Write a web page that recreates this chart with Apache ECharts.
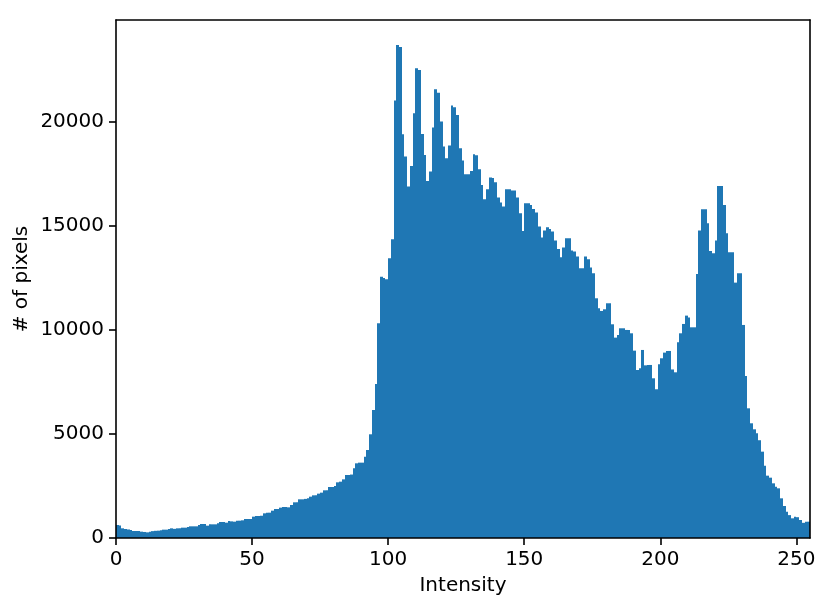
<!DOCTYPE html>
<html>
<head>
<meta charset="utf-8">
<script src="https://cdn.jsdelivr.net/npm/echarts@6/dist/echarts.min.js"></script>
<style>
  html, body { margin: 0; padding: 0; background: #fff; }
  #main { width: 831px; height: 611px; }
</style>
</head>
<body>
<div id="main"></div>
<script>
// pixel counts per intensity bin (bin i covers [i, i+1))
const counts = [
  625, 600, 465, 433, 410, 390, 337, 337, 337, 305,
  290, 272, 300, 330, 345, 353, 370, 401, 401, 430,
  465, 440, 465, 465, 497, 497, 530, 561, 561, 561,
  625, 673, 673, 593, 657, 657, 657, 705, 769, 769,
  737, 817, 800, 785, 833, 833, 850, 913, 913, 913,
  1026, 1058, 1058, 1070, 1186, 1218, 1218, 1314, 1394, 1394,
  1459, 1490, 1490, 1474, 1587, 1715, 1715, 1859, 1859, 1880,
  1907, 1987, 2051, 2051, 2132, 2180, 2292, 2292, 2452, 2452,
  2500, 2676, 2708, 2820, 3029, 3029, 3050, 3350, 3590, 3622,
  3622, 3910, 4231, 4985, 6154, 7404, 10322, 12564, 12500, 12436,
  13447, 14361, 21026, 23700, 23600, 19410, 18334, 16891, 17886, 20419,
  22583, 22500, 19424, 18415, 17165, 17613, 19728, 21573, 21400, 20016,
  18814, 18256, 18862, 20786, 20700, 20338, 18736, 18142, 17485, 17485,
  17645, 18447, 18400, 17725, 16972, 16283, 16764, 17325, 17300, 17100,
  16363, 16122, 15930, 16764, 16764, 16700, 16700, 16363, 15611, 14761,
  16091, 16091, 16011, 15818, 15642, 14969, 14440, 14777, 14937, 14857,
  14729, 14300, 13895, 13494, 13959, 14408, 14408, 13815, 13767, 13527,
  12965, 12965, 13527, 13400, 13000, 12725, 11523, 11042, 10914, 10994,
  11283, 11283, 10273, 9632, 9760, 10081, 10081, 10001, 10001, 9840,
  9006, 8077, 8157, 9039, 8300, 8318, 8318, 7677, 7150, 8350,
  8639, 8911, 8991, 8991, 8101, 7965, 9407, 9840, 10289, 10690,
  10600, 10128, 10128, 12693, 14777, 15802, 15802, 15129, 13799, 13687,
  14296, 16924, 16924, 16011, 14648, 13735, 13735, 12276, 12725, 12725,
  10241, 7789, 6234, 5514, 5225, 5032, 4700, 4151, 3478, 2997,
  2900, 2628, 2468, 2388, 1907, 1539, 1266, 1100, 946, 1026,
  1000, 865, 730, 785, 785, 760
];
const binWidth = 1;
const xTicks = [0, 50, 100, 150, 200, 250];
const yTicks = [0, 5000, 10000, 15000, 20000];

let binData = [];
for (let i = 0; i < counts.length; i++) {
  binData.push([i * binWidth, counts[i]]);
}

const font = 'DejaVu Sans';
const lineW = 1.6;

let chart = echarts.init(document.getElementById('main'), null, { renderer: 'canvas' });
chart.setOption({
  animation: false,
  backgroundColor: '#fff',
  grid: { left: 116, right: 21, top: 20, bottom: 73 },
  xAxis: [
    {
      type: 'value',
      min: 0,
      max: 255,
      interval: 50,
      z: 5,
      name: 'Intensity',
      nameLocation: 'middle',
      nameGap: 38,
      nameMoveOverlap: false,
      nameTextStyle: { fontFamily: font, fontSize: 20, color: '#000' },
      axisLine: { show: true, onZero: false, lineStyle: { color: '#000', width: lineW } },
      axisTick: { show: true, length: 7, lineStyle: { color: '#000', width: lineW } },
      axisLabel: {
        margin: 12, fontFamily: font, fontSize: 20, color: '#000',
        showMaxLabel: false,
        formatter: v => (xTicks.indexOf(v) >= 0 ? String(v) : '')
      },
      splitLine: { show: false }
    },
    {
      type: 'value', position: 'top', min: 0, max: 255, z: 5,
      axisLine: { show: true, onZero: false, lineStyle: { color: '#000', width: lineW } },
      axisTick: { show: false }, axisLabel: { show: false }, splitLine: { show: false }
    }
  ],
  yAxis: [
    {
      type: 'value',
      min: 0,
      max: 24900,
      interval: 5000,
      z: 5,
      name: '# of pixels',
      nameLocation: 'middle',
      nameGap: 84,
      nameMoveOverlap: false,
      nameTextStyle: { fontFamily: font, fontSize: 20, color: '#000' },
      axisLine: { show: true, onZero: false, lineStyle: { color: '#000', width: lineW } },
      axisTick: { show: true, length: 7, lineStyle: { color: '#000', width: lineW } },
      axisLabel: {
        margin: 12, fontFamily: font, fontSize: 20, color: '#000',
        showMaxLabel: false,
        formatter: v => (yTicks.indexOf(v) >= 0 ? String(v) : '')
      },
      splitLine: { show: false }
    },
    {
      type: 'value', position: 'right', min: 0, max: 24900, z: 5,
      axisLine: { show: true, onZero: false, lineStyle: { color: '#000', width: lineW } },
      axisTick: { show: false }, axisLabel: { show: false }, splitLine: { show: false }
    }
  ],
  series: [{
    type: 'custom',
    xAxisIndex: 0,
    yAxisIndex: 0,
    data: binData,
    renderItem: function (params, api) {
      const x0 = api.value(0);
      const h = api.value(1);
      const p0 = api.coord([x0, h]);
      const p1 = api.coord([x0 + binWidth, 0]);
      // snap the bar edges to whole pixels so neighbouring bins leave no seam
      const left = Math.round(p0[0]);
      const right = Math.round(p1[0]);
      const rect = echarts.graphic.clipRectByRect(
        { x: left, y: p0[1], width: right - left, height: p1[1] - p0[1] },
        { x: params.coordSys.x, y: params.coordSys.y, width: params.coordSys.width, height: params.coordSys.height }
      );
      if (!rect) return;
      return { type: 'rect', shape: rect, style: { fill: '#1f77b4', stroke: null } };
    }
  }]
});
</script>
</body>
</html>
